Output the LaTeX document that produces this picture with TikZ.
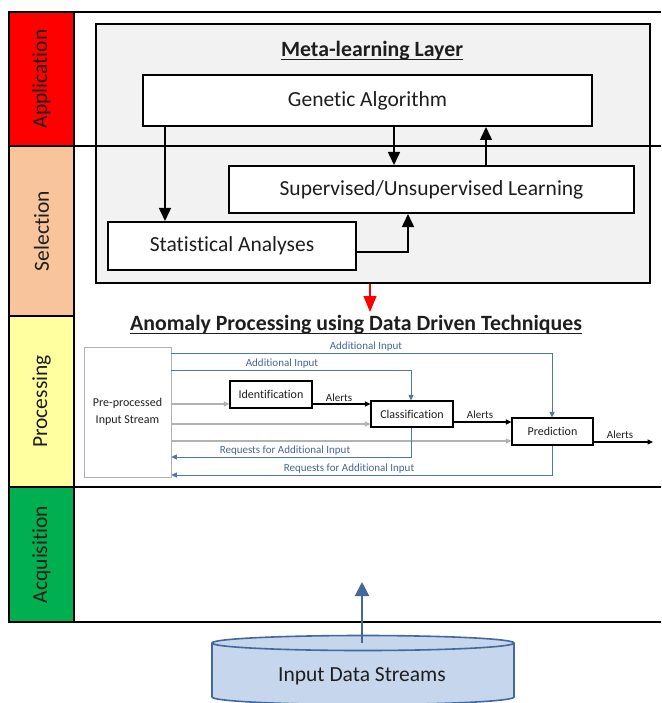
\documentclass[tikz,border=0pt]{standalone}
\usepackage{fontspec}
\setmainfont[Ligatures={NoCommon}]{Carlito}
\usetikzlibrary{arrows.meta}
\definecolor{appred}{RGB}{255,0,0}
\definecolor{selor}{RGB}{248,196,156}
\definecolor{procy}{RGB}{255,255,160}
\definecolor{acqg}{RGB}{0,176,80}
\definecolor{metag}{RGB}{242,242,242}
\definecolor{txt}{RGB}{30,30,30}
\definecolor{lblue}{RGB}{84,118,166}
\definecolor{tblue}{RGB}{70,100,150}
\definecolor{lgray}{RGB}{178,178,178}
\definecolor{cylfill}{RGB}{198,214,236}
\definecolor{cyldraw}{RGB}{66,104,156}
\begin{document}
\begin{tikzpicture}[x=1pt,y=-1pt,
  bigfont/.style={font=\fontsize{21.5}{26}\selectfont, text=txt},
  colbox/.style={draw=black, line width=2pt, inner sep=0pt, rotate=90, minimum height=65, bigfont},
  bigbox/.style={draw=black, line width=2pt, fill=white, inner sep=0pt, bigfont},
  smallbox/.style={draw=black, line width=1.1pt, fill=white, inner sep=0pt, font=\fontsize{12}{14}\selectfont, text=txt},
  slbl/.style={inner sep=0pt, font=\fontsize{11}{13}\selectfont, text=tblue},
  klbl/.style={inner sep=0pt, font=\fontsize{11}{13}\selectfont, text=txt},
  title/.style={inner sep=0pt, font=\fontsize{21.8}{26}\selectfont\bfseries, text=txt},
  bigarrow/.style={draw=black, line width=1.5pt, -{Triangle[length=13pt,width=12pt]}},
  redarrow/.style={draw=red, line width=1.2pt, -{Triangle[length=16pt,width=13pt]}},
  barrow/.style={draw=lblue, line width=0.9pt, -{Triangle[length=5.5pt,width=5pt]}},
  garrow/.style={draw=lgray, line width=1.1pt, -{Triangle[length=5.5pt,width=5pt]}},
  karrow/.style={draw=black, line width=1.1pt, -{Triangle[length=5.5pt,width=5pt]}},
  hline/.style={draw=black, line width=1.4pt}
]
\useasboundingbox (0,0) rectangle (661,703);
\clip (0,0) rectangle (661,703);

% layer column
\node[colbox, fill=appred, minimum width=134] (app) at (41.5,79) {Application};
\node[colbox, fill=selor, minimum width=170] (sel) at (41.5,231) {Selection};
\node[colbox, fill=procy, minimum width=171] (proc) at (41.5,401.5) {Processing};
\node[colbox, fill=acqg, minimum width=135] (acq) at (41.5,554.5) {Acquisition};

% meta-learning layer
\node[draw=black, line width=2pt, fill=metag, minimum width=554, minimum height=258, inner sep=0pt] (meta) at (373,153.5) {};

% horizontal layer lines
\coordinate (l1) at (661,12);
\coordinate (l2) at (661,146);
\coordinate (l3) at (661,487);
\coordinate (l4) at (661,622);
\draw[hline, line width=1.8pt] (app.north east |- l1) -- (l1);
\draw[hline, line width=1.2pt] (app.north east |- l2) -- (l2);
\draw[hline] (app.north east |- l3) -- (l3);
\draw[hline] (acq.south west |- l4) -- (l4);

\node[title] (mt) at (372,51) {Meta-learning Layer};
\draw[line width=1.3pt, draw=txt] ([yshift=-3pt]mt.base west) -- ([yshift=-3pt]mt.base east);

\node[bigbox, minimum width=449, minimum height=51] (ga) at (367.5,100.5) {Genetic Algorithm};
\node[bigbox, minimum width=405, minimum height=47] (sup) at (431.5,189.5) {Supervised/Unsupervised Learning};
\node[bigbox, minimum width=248, minimum height=48] (stat) at (232,246) {Statistical Analyses};

\coordinate (c1) at (165,0);
\coordinate (c2) at (394,0);
\coordinate (c3) at (486,0);
\coordinate (s1) at (408,252);
\draw[bigarrow] (c1 |- ga.south) -- (c1 |- stat.north);
\draw[bigarrow] (c2 |- ga.south) -- (c2 |- sup.north);
\draw[bigarrow] (c3 |- sup.north) -- (c3 |- ga.south);
\draw[bigarrow] (stat.east |- s1) -- (s1) -- (s1 |- sup.south);

\coordinate (ra) at (370,312);
\draw[redarrow] (ra |- meta.south) -- (ra);

% anomaly processing
\node[title] (at) at (356,325) {Anomaly Processing using Data Driven Techniques};
\draw[line width=1.3pt, draw=txt] ([yshift=-3pt]at.base west) -- ([yshift=-3pt]at.base east);

\node[draw=lgray, line width=0.6pt, minimum width=87, minimum height=130, inner sep=0pt, align=center, font=\fontsize{12}{17}\selectfont, text=txt] (pre) at (127.5,412) {Pre-processed\\Input Stream};
\node[smallbox, minimum width=82, minimum height=27] (id) at (271,394.5) {Identification};
\node[smallbox, minimum width=82, minimum height=26] (cl) at (412,414) {Classification};
\node[smallbox, minimum width=81, minimum height=27] (pr) at (552.5,431.5) {Prediction};

\coordinate (ai1) at (552,353);
\coordinate (ai2) at (411,370);
\draw[barrow] (pre.east |- ai1) -- (ai1) -- (ai1 |- pr.north);
\draw[barrow] (pre.east |- ai2) -- (ai2) -- (ai2 |- cl.north);
\node[slbl] (lai1) at (366,346.5) {Additional Input};
\node[slbl] (lai2) at (282,363.5) {Additional Input};

\coordinate (g1) at (0,404);
\coordinate (g2) at (0,424);
\coordinate (g3) at (0,441);
\coordinate (a2) at (0,422);
\coordinate (out) at (653,442);
\draw[garrow] (pre.east |- g1) -- (id.west |- g1);
\draw[garrow] (pre.east |- g2) -- (cl.west |- g2);
\draw[garrow] (pre.east |- g3) -- (pr.west |- g3);
\draw[karrow] (id.east |- g1) -- (cl.west |- g1);
\draw[karrow] (cl.east |- a2) -- (pr.west |- a2);
\draw[karrow] (pr.east |- out) -- (out);
\node[klbl] (al1) at (339,398) {Alerts};
\node[klbl] (al2) at (480,415) {Alerts};
\node[klbl] (al3) at (620,435) {Alerts};

\coordinate (r1) at (411,457);
\coordinate (r2) at (552,475);
\draw[barrow] (r1 |- cl.south) -- (r1) -- (pre.east |- r1);
\draw[barrow] (r2 |- pr.south) -- (r2) -- (pre.east |- r2);
\node[slbl] (rq1) at (285,451) {Requests for Additional Input};
\node[slbl] (rq2) at (349,469) {Requests for Additional Input};

% input data streams cylinder
\filldraw[fill=cylfill, draw=cyldraw, line width=1.6pt] (212,643) -- (212,697) arc[start angle=180, end angle=0, x radius=151, y radius=7.5] -- (514,643);
\filldraw[fill=cylfill, draw=cyldraw, line width=1.6pt] (363,643) ellipse[x radius=151, y radius=7.5];
\node[bigfont, inner sep=0pt] (ids) at (362,676) {Input Data Streams};
\coordinate (cyltop) at (362,643);
\coordinate (tip) at (362,582);
\draw[draw=cyldraw, line width=2pt, -{Triangle[length=14pt,width=14pt]}] (cyltop) -- (tip);
\end{tikzpicture}
\end{document}
